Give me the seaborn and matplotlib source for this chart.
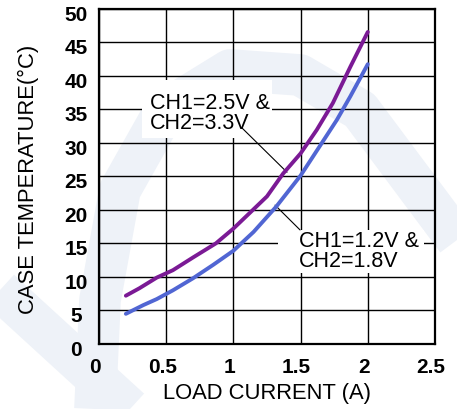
import matplotlib
matplotlib.use("Agg")
import numpy as np
import pandas as pd
import matplotlib.pyplot as plt
import matplotlib.transforms as mtransforms
from matplotlib.patches import Rectangle
import seaborn as sns

# Case temperature vs load current, two output-voltage configurations
current_hi = [0.2, 0.3, 0.43, 0.55, 0.7, 0.87, 1.0, 1.12, 1.25, 1.37, 1.5, 1.62, 1.74, 1.87, 2.0]
temp_hi = [7.2, 8.3, 9.9, 11.0, 12.9, 15.0, 17.2, 19.5, 22.0, 25.4, 28.4, 31.9, 35.9, 41.3, 46.5]

current_lo = [0.2, 0.33, 0.43, 0.55, 0.7, 0.85, 1.0, 1.15, 1.32, 1.5, 1.64, 1.77, 1.87, 2.0]
temp_lo = [4.5, 5.8, 6.7, 8.0, 9.8, 11.8, 13.9, 16.7, 20.5, 25.1, 29.4, 33.4, 36.9, 41.7]

series_names = ["CH1=2.5V &\nCH2=3.3V", "CH1=1.2V &\nCH2=1.8V"]
series_colors = ["#7B1A95", "#5166D3"]

x_ticks = [0, 0.5, 1, 1.5, 2, 2.5]
y_ticks = [0, 5, 10, 15, 20, 25, 30, 35, 40, 45, 50]
x_label = "LOAD CURRENT (A)"
y_label = "CASE TEMPERATURE(°C)"

sns.set_theme(style="white")
plt.rcParams["font.family"] = ["Liberation Sans", "DejaVu Sans"]

df = pd.concat([
    pd.DataFrame({"current": current_hi, "temp": temp_hi, "series": series_names[0]}),
    pd.DataFrame({"current": current_lo, "temp": temp_lo, "series": series_names[1]}),
], ignore_index=True)

fig = plt.figure(figsize=(4.57, 4.09), dpi=100)
fig.patch.set_facecolor("white")

# faint logo shapes in the page background (pixel coordinates)
bg = fig.add_axes([0, 0, 1, 1], zorder=-5)
bg.set_xlim(0, 457)
bg.set_ylim(409, 0)
bg.axis("off")
wm = "#EEF2F8"
bg.plot([95, 100, 120, 165, 230, 300, 360, 457], [409, 300, 190, 110, 70, 75, 110, 240],
        color=wm, lw=30, solid_capstyle="butt", solid_joinstyle="round")
bg.plot([0, 130], [290, 409], color=wm, lw=30, solid_capstyle="butt")

ax = fig.add_axes([0.2166, 0.1589, 0.7352, 0.8203])
ax.set_facecolor("none")

sns.lineplot(data=df, x="current", y="temp", hue="series", palette=series_colors,
             linewidth=2.8, estimator=None, sort=False, legend=False, ax=ax, zorder=3)

ax.set_xlim(0, 2.5)
ax.set_ylim(0, 50)
ax.set_xticks(x_ticks)
ax.set_yticks(y_ticks)
ax.set_xticklabels([f"{t:g}" for t in x_ticks])
ax.set_yticklabels([f"{t:g}" for t in y_ticks])

ax.set_axisbelow(True)
ax.grid(True, color="black", linewidth=1.0)
for sp in ax.spines.values():
    sp.set_visible(True)
    sp.set_color("black")
    sp.set_linewidth(1.6)

ax.tick_params(axis="both", length=0, labelsize=15, labelcolor="black")
ax.tick_params(axis="x", pad=10)
ax.tick_params(axis="y", pad=16.5)
for lab in ax.get_xticklabels() + ax.get_yticklabels():
    lab.set_fontweight("bold")
for lab in ax.get_yticklabels():
    lab.set_horizontalalignment("center")
    lab.set_transform(lab.get_transform() + mtransforms.ScaledTranslation(0, -0.045, fig.dpi_scale_trans))
for lab in ax.get_xticklabels():
    lab.set_transform(lab.get_transform() + mtransforms.ScaledTranslation(-0.04, 0, fig.dpi_scale_trans))

ax.set_xlabel(x_label, fontsize=15.8, color="black")
ax.set_ylabel(y_label, fontsize=15.8, color="black")
ax.xaxis.set_label_coords(0.5, -0.149)
ax.xaxis.label.set_verticalalignment("center")
ax.yaxis.set_label_coords(-0.211, 0.492)
ax.yaxis.label.set_verticalalignment("center")

# white label backgrounds breaking the grid
ax.add_patch(Rectangle((0.32, 30.7), 1.287 - 0.32, 39.3 - 30.7, facecolor="white",
                       edgecolor="none", zorder=1.5))
ax.add_patch(Rectangle((1.332, 10.6), 2.418 - 1.332, 17.0 - 10.6, facecolor="white",
                       edgecolor="none", zorder=1.5))

ax.text(0.379, 34.3, series_names[0], fontsize=15.5, color="black", ha="left", va="center",
        linespacing=0.92, zorder=4)
ax.text(1.488, 13.8, series_names[1], fontsize=15.5, color="black", ha="left", va="center",
        linespacing=0.92, zorder=4)

# leader lines from labels to curves
ax.plot([1.064, 1.399], [32.2, 25.6], color="black", lw=0.8, zorder=2.5)
ax.plot([1.31, 1.496], [20.7, 17.0], color="black", lw=0.8, zorder=2.5)

fig.savefig("out.png", dpi=100)
